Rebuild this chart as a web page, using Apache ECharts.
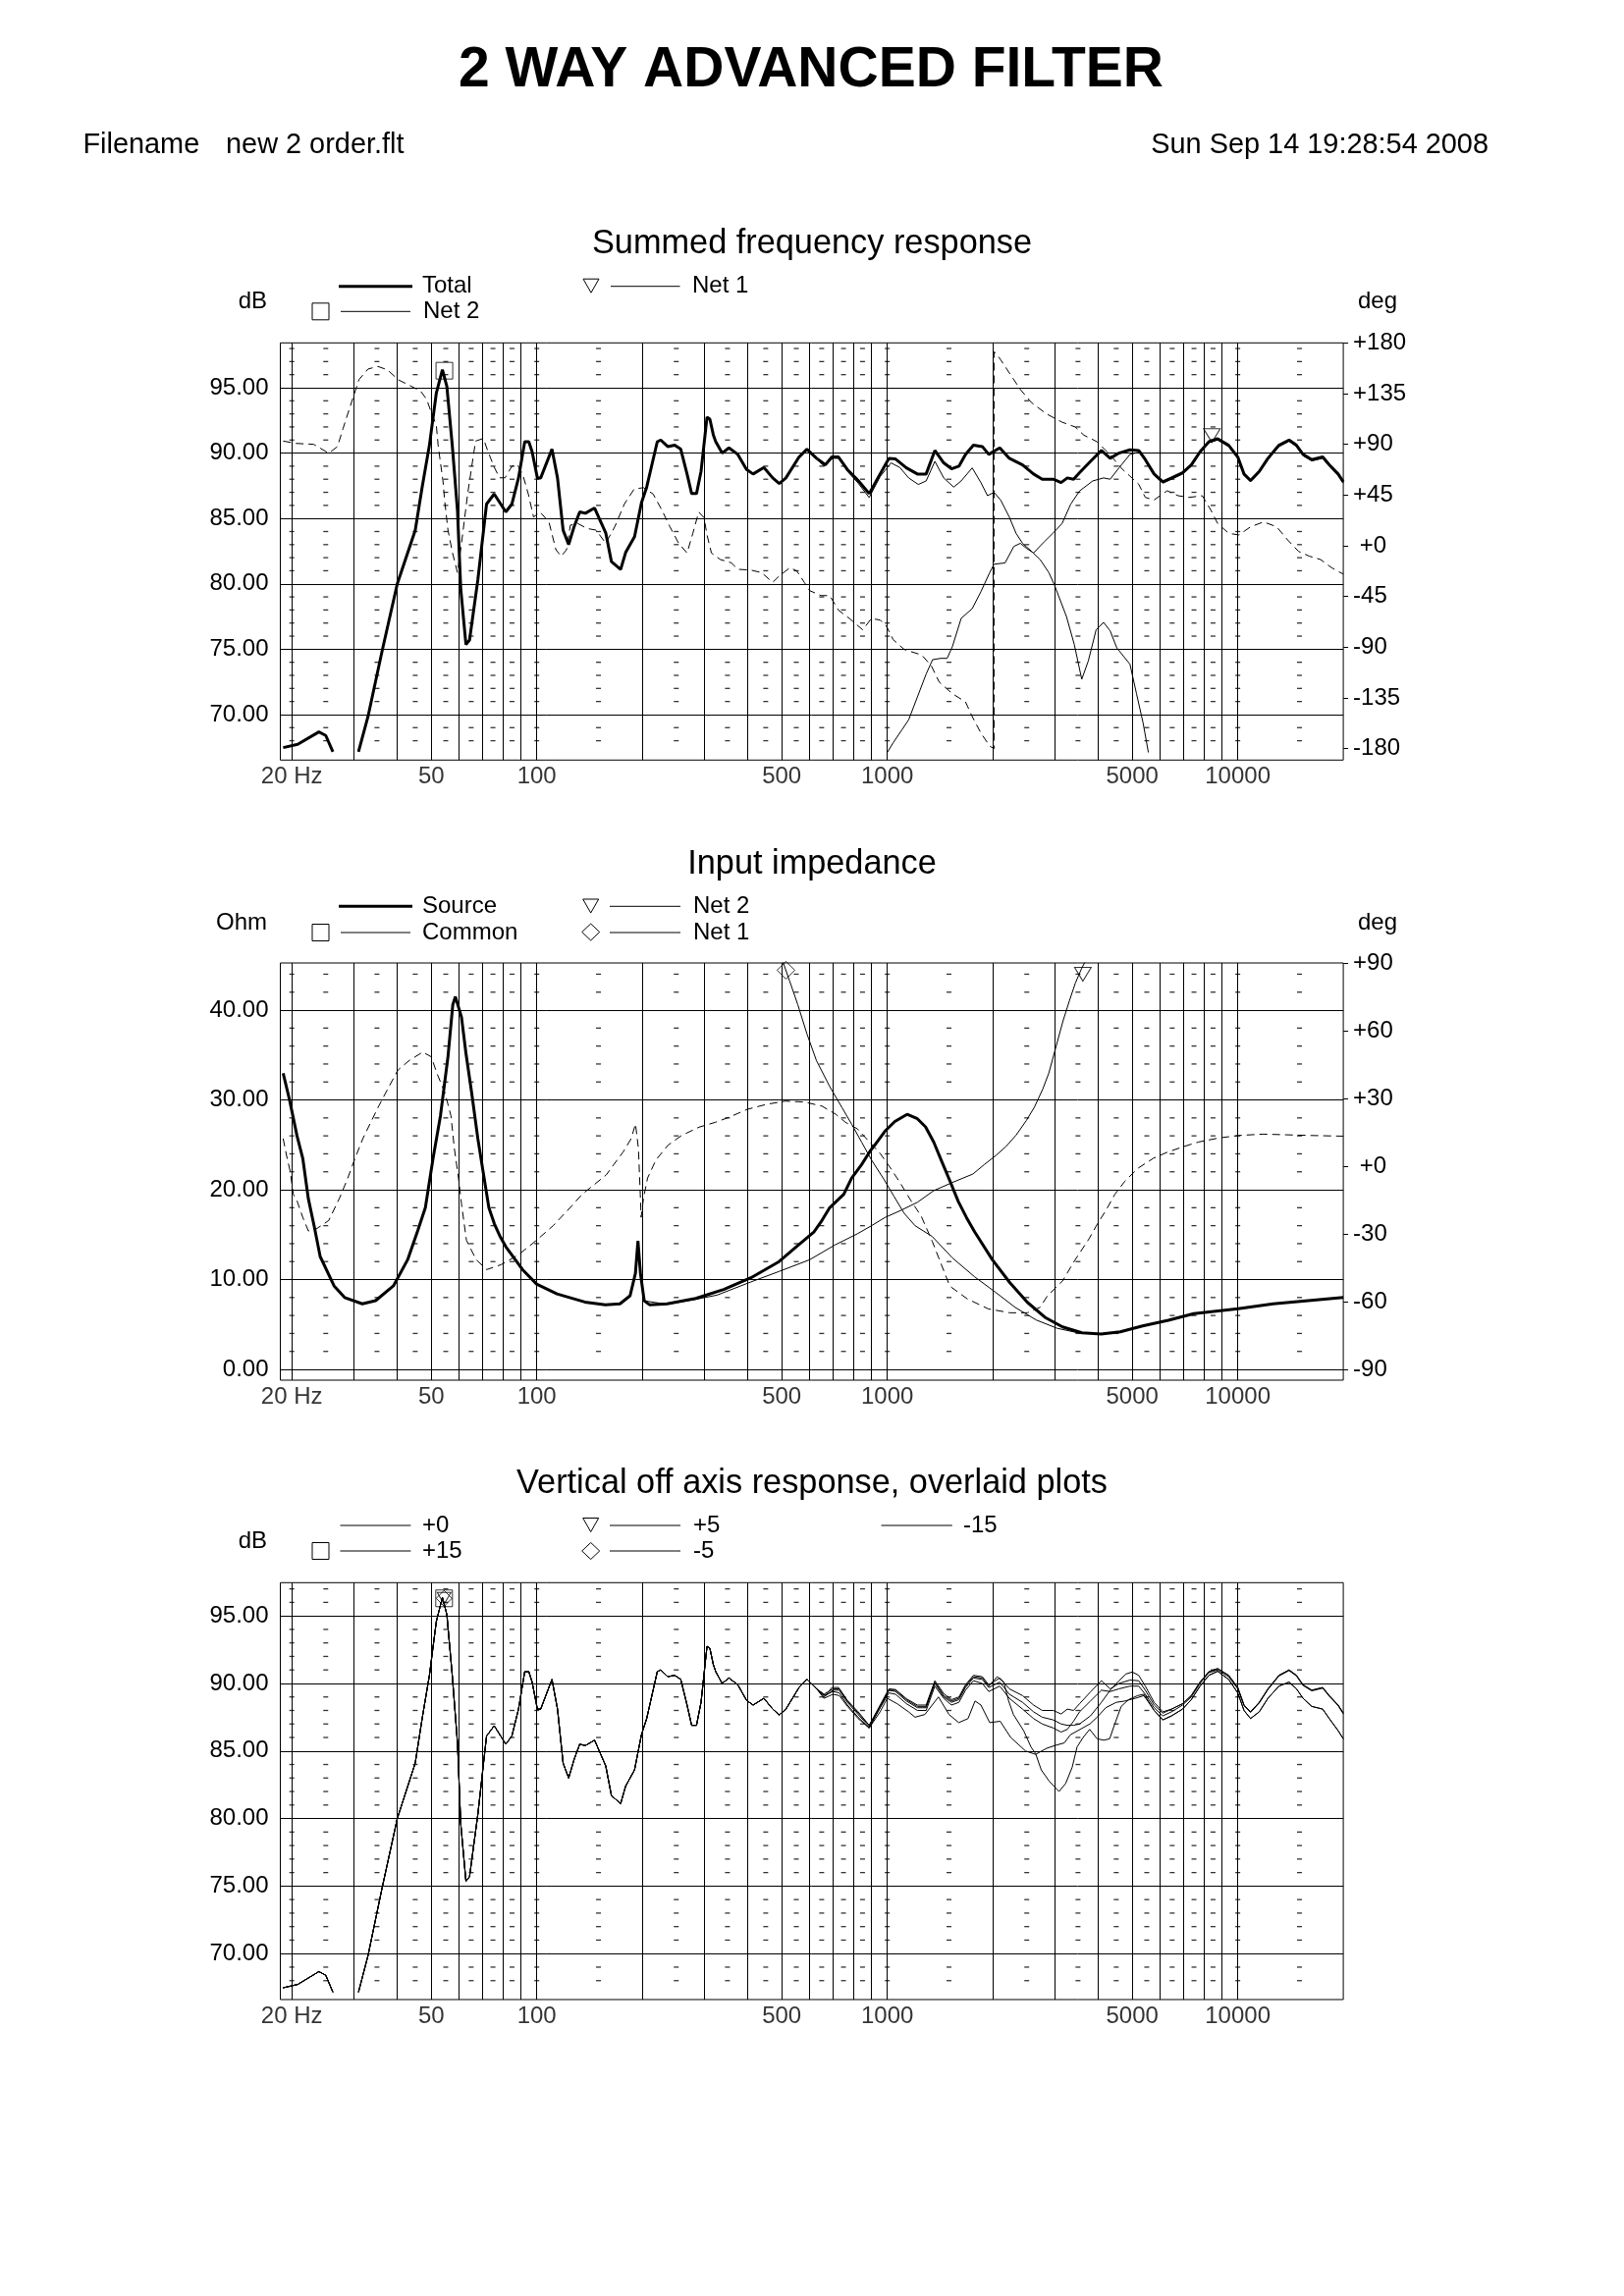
<!DOCTYPE html>
<html><head><meta charset="utf-8">
<script src="https://cdn.jsdelivr.net/npm/echarts@6/dist/echarts.min.js"></script>
<style>html,body{margin:0;padding:0;background:#fff}#c{width:1654px;height:2339px}</style>
</head><body><div id="c"></div>
<script>
// ---------- axis / grid definitions ----------
const F_MIN = 18.55, F_MAX = 20000;
const freqLabels = [20, 50, 100, 500, 1000, 5000, 10000];
const freqGrid = [20,30,40,50,60,70,80,90,100,200,300,400,500,600,700,800,900,1000,2000,3000,4000,5000,6000,7000,8000,9000,10000];
const dashFreqs = [20,25,35,45,55,65,75,85,100,150,250,350,450,550,650,750,850,1000,1500,2500,3500,4500,5500,6500,7500,8500,10000,15000];

const c1DbRange = [66.52, 98.43];
const c1PhRange = [-190.1, 180];
const c1DbTicks = [70,75,80,85,90,95];
const c1DbMinor = [68,69,71,72,73,74,76,77,78,79,81,82,83,84,86,87,88,89,91,92,93,94,96,97,98];
const c1PhTicks = [-180,-135,-90,-45,0,45,90,135,180];

const c2OhmRange = [-1.2, 45.25];
const c2PhRange = [-94.5, 90];
const c2OhmTicks = [0,10,20,30,40];
const c2OhmMinor = [2,4,6,8,12,14,16,18,22,24,26,28,32,34,36,38,42,44];
const c2PhTicks = [-90,-60,-30,0,30,60,90];

const c3DbRange = [66.6, 97.46];
const c3DbTicks = [70,75,80,85,90,95];
const c3DbMinor = [68,69,71,72,73,74,76,77,78,79,81,82,83,84,86,87,88,89,91,92,93,94,96,97];

// ---------- chart 1: Summed frequency response ----------
const total = [[18.9,67.47],[20.8,67.72],[23.9,68.67],[25.0,68.4],[26.2,67.15],[28.5,null],[31.0,67.15],[33.0,69.85],[36.2,74.86],[40.0,80.0],[45.0,84.1],[47.1,87.4],[49.4,90.6],[51.7,94.6],[53.8,96.37],[55.4,95.1],[57.4,90.6],[59.4,85.6],[60.7,79.6],[62.8,75.35],[64.3,75.7],[67.9,80.3],[71.9,86.1],[75.6,86.87],[81.6,85.5],[84.9,86.1],[88.7,88.1],[92.4,90.87],[94.9,90.87],[97.0,90.1],[100.4,88.1],[102.6,88.1],[110.5,90.3],[114.6,88.1],[118.9,84.1],[123.3,83.0],[127.9,84.4],[132.6,85.5],[137.6,85.4],[146.2,85.8],[157.3,83.9],[163.3,81.7],[173.5,81.1],[179.3,82.4],[190.1,83.6],[198.9,86.2],[205.9,87.4],[220.7,90.87],[225.8,91.0],[236.4,90.5],[247.5,90.6],[257.5,90.3],[268.4,88.4],[276.6,86.9],[285.6,86.9],[294.2,88.6],[306.0,92.75],[311.8,92.6],[318.9,91.4],[324.1,90.87],[338.0,90.0],[353.4,90.4],[374.6,89.9],[396.7,88.75],[414.2,88.4],[444.6,88.9],[471.1,88.1],[492.0,87.67],[513.8,88.1],[560.2,89.7],[589.9,90.3],[628.5,89.6],[665.8,89.1],[695.1,89.7],[725.8,89.7],[768.9,88.75],[826.1,87.9],[888.1,86.9],[954.0,88.4],[1010.8,89.6],[1055.6,89.55],[1133.9,88.87],[1218.8,88.4],[1290.8,88.4],[1367,90.2],[1449,89.25],[1525,88.8],[1601,89.0],[1672,89.9],[1761,90.6],[1867,90.5],[1948,89.9],[2094,90.4],[2230,89.6],[2432,89.1],[2614,88.4],[2768,88.0],[2976,88.0],[3133,87.74],[3264,88.1],[3400,88.0],[3537,88.5],[3800,89.37],[4083,90.2],[4325,89.6],[4582,90.0],[4925,90.25],[5216,90.2],[5447,89.5],[5772,88.4],[6113,87.8],[6474,88.1],[6958,88.5],[7369,89.1],[7804,90.1],[8272,90.87],[8761,91.1],[9418,90.6],[10000,89.7],[10418,88.4],[10874,87.9],[11516,88.6],[12195,89.6],[13106,90.6],[14007,91.0],[14703,90.6],[15353,89.9],[16260,89.5],[17472,89.7],[18241,89.1],[19336,88.4],[20000,87.8]];

const net2Spl = [[600,90.1],[660,89.0],[700,89.6],[730,89.6],[770,88.6],[826,87.7],[888,86.6],[954,88.2],[1025,89.25],[1086,88.9],[1151,88.1],[1226,87.6],[1291,87.87],[1367,89.37],[1449,88.1],[1547,87.4],[1625,87.87],[1747,88.87],[1850,87.74],[1932,86.74],[2017,87.0],[2107,86.4],[2230,85.1],[2330,83.87],[2432,83.1],[2577,82.5],[2729,81.86],[2891,80.86],[3000,79.9],[3245,77.5],[3417,75.35],[3588,72.7],[3746,74.1],[3945,76.5],[4143,77.05],[4325,76.4],[4517,75.1],[4925,73.85],[5141,71.6],[5370,69.35],[5559,67.1]];

const net1Spl = [[1000,67.1],[1040,67.85],[1102,68.85],[1151,69.6],[1219,71.35],[1291,73.1],[1347,74.2],[1420,74.3],[1482,74.3],[1534,75.2],[1625,77.36],[1747,78.1],[1850,79.4],[1960,80.86],[2017,81.5],[2168,81.6],[2296,82.86],[2397,83.1],[2500,82.7],[2614,82.36],[2800,83.2],[2976,83.9],[3151,84.6],[3338,86.1],[3537,87.1],[3857,87.87],[4143,88.1],[4325,88.0],[4582,88.87],[4925,89.9],[5290,90.1],[5447,89.4],[5772,88.3],[6113,87.7],[6474,88.0],[6958,88.4],[7369,89.0],[7804,90.0],[8272,90.8],[8761,91.0],[9418,90.5],[10000,89.6],[10418,88.3],[10874,87.8],[11516,88.5],[12195,89.5],[13106,90.5],[14007,90.9],[14703,90.5],[15353,89.8],[16260,89.4],[17472,89.6],[18241,89.0],[19336,88.3],[20000,87.7]];

const phase1 = [[18.9,92.9],[20.6,90.8],[23.1,90.0],[25.5,82.1],[27.0,88.0],[28.0,103.9],[29.4,124.3],[31.1,147.4],[33.0,156.8],[35.2,159.1],[37.5,156.1],[40.2,147.4],[43.4,142.2],[46.6,137.3],[48.5,130.0],[50.0,118.4],[51.7,106.8],[52.3,89.4],[52.9,77.8],[54.0,57.5],[54.6,40.1],[55.8,14.0],[57.5,-6.4],[59.4,-23.8],[61.0,2.3],[63.5,45.9],[66.9,92.9],[70.4,95.2],[72.3,85.1],[75.4,70.5],[78.3,60.3],[81.2,60.3],[84.9,70.5],[88.0,72.0],[91.2,63.3],[94.6,45.9],[97.9,25.5],[102.2,29.9],[108.3,21.2],[113.4,-3.5],[117.4,-9.3],[121.6,-3.5],[124.7,18.3],[130.9,19.8],[138.9,15.4],[147.6,13.9],[157.3,2.3],[166.9,16.8],[177.9,37.2],[189.5,50.2],[201.5,51.6],[214.8,45.9],[227.8,31.3],[239.9,16.8],[253.9,2.3],[268.4,-6.4],[278.8,11.1],[289.7,29.9],[300,25],[306,9.6],[315,-6.4],[334,-12.2],[359,-15.1],[375,-20.9],[407,-21.5],[438,-23.8],[471,-32.5],[492,-26.7],[528,-19.4],[552,-22.4],[580,-32.5],[601,-39.8],[647,-44.2],[685,-44.2],[726,-57.2],[780,-64.5],[851,-74.6],[901,-64.5],[954,-65.9],[996,-71.7],[1040,-83.3],[1118,-92.0],[1254,-96.9],[1336,-106.5],[1407,-121.0],[1534,-131.2],[1672,-138.5],[1747,-151.5],[1850,-166.1],[1960,-177.7],[2017,-180],[2017,172],[2046,170.7],[2107,164.9],[2230,153.3],[2397,138.7],[2577,127.1],[2846,117.0],[3151,109.7],[3437,105.4],[3639,98.1],[3968,92.3],[4325,80.7],[4649,69.0],[4925,61.8],[5216,54.6],[5447,42.9],[5772,40.7],[6289,48.8],[6761,44.4],[7259,42.9],[7920,44.4],[8392,31.3],[8761,19.8],[9418,11.1],[10073,9.6],[10874,16.8],[11850,21.2],[12914,16.8],[13874,5.2],[14915,-5.0],[16019,-9.3],[17227,-12.2],[18520,-19.4],[19617,-23.8],[20000,-25]];

const c1Net2Marker = [54.5, 96.3];
const c1Net1Marker = [8437, 91.34];

// ---------- chart 2: Input impedance ----------
const srcOhm = [[18.9,32.97],[19.7,30.05],[20.7,26.0],[21.5,23.5],[22.3,19.0],[23.2,15.85],[24.1,12.57],[26.4,9.3],[28.3,8.0],[31.8,7.3],[34.7,7.65],[39.0,9.3],[42.8,12.2],[45.8,15.5],[48.1,18.0],[50.6,23.5],[53.1,28.2],[55.8,34.8],[57.6,40.6],[58.6,41.5],[61.0,39.2],[62.8,35.2],[65.2,30.8],[67.9,25.7],[70.3,22.0],[73.0,18.0],[75.7,16.2],[78.7,14.75],[81.6,13.66],[91.1,11.1],[99.9,9.5],[114.2,8.4],[137.1,7.5],[157.0,7.2],[172.7,7.3],[184.6,8.2],[191.2,10.7],[194.4,14.3],[197.6,10.7],[202.5,7.65],[209.7,7.2],[235.4,7.3],[284.2,7.9],[341.5,8.9],[408.3,10.2],[491.3,12.0],[557.6,13.85],[617.4,15.3],[646.7,16.4],[685,18.0],[751.5,19.5],[791.5,21.3],[845,22.8],[893.1,24.3],[922,25.0],[984,26.5],[1051,27.6],[1139,28.4],[1219,27.9],[1286,27.0],[1357,25.3],[1432,23.1],[1512,20.9],[1594,18.7],[1683,16.9],[1776,15.3],[1995,12.2],[2238,9.65],[2511,7.46],[2817,5.8],[3162,4.73],[3590,4.08],[4076,3.93],[4622,4.19],[5353,4.84],[6337,5.46],[7490,6.2],[10016,6.74],[12616,7.29],[15890,7.65],[20000,8.0]];

const srcPhase = [[18.9,12.3],[19.4,3.6],[19.8,-2.2],[20.2,-12.3],[20.7,-15.2],[21.5,-22.5],[22.3,-28.5],[23.2,-28.2],[25.5,-23.9],[27.4,-13.8],[28.9,-5.1],[30.3,3.6],[31.9,12.3],[33.6,19.5],[35.4,26.7],[37.9,35.4],[40.2,42.7],[43.4,47.0],[47.3,50.6],[50.0,48.5],[51.9,41.2],[54.7,32.6],[56.9,22.4],[58.2,7.9],[59.8,-5.1],[61.0,-16.7],[63.0,-32.6],[67.2,-41.3],[72.0,-45.6],[79.2,-43.4],[88.6,-39.1],[99.9,-32.6],[111.5,-26.1],[124.7,-18.1],[134.7,-12.3],[145.9,-8.0],[157.9,-3.7],[165.6,0.7],[176.5,6.5],[185.9,12.3],[191.3,18.8],[195.0,7.9],[197.4,-12.3],[198.5,-22.5],[201.7,-13.8],[207.1,-5.1],[218.8,2.9],[236.8,9.4],[258.9,13.7],[290.6,17.4],[322.7,19.5],[352.9,21.7],[399.0,25.3],[453.1,27.5],[511.2,28.9],[580.3,28.5],[651.1,26.7],[712.9,23.1],[760.4,19.5],[822.4,16.6],[890.0,10.8],[954.0,5.8],[1022,-0.75],[1089,-7.3],[1167,-15],[1250,-22],[1343,-33],[1508,-52.9],[1693,-58.6],[1944,-63.0],[2238,-64.7],[2511,-64.7],[2729,-62.3],[2864,-57.2],[3162,-50.7],[3412,-42.0],[3767,-31.9],[3977,-25.4],[4199,-19.6],[4460,-12.3],[4764,-6.5],[5195,-0.75],[5741,3.6],[6269,6.2],[6976,8.7],[7721,10.8],[8832,12.6],[10052,13.7],[11786,14.3],[13824,14.0],[16166,13.7],[20000,13.4]];

const net1Ohm = [[500.5,45.7],[527,43.2],[555.6,40.6],[590,37.35],[627.7,34.4],[685,31.5],[744,29.1],[791.5,27.3],[845,25.3],[902,23.3],[977,21.2],[1044,19.3],[1116,17.4],[1200,16.0],[1343,14.8],[1535,12.4],[1776,10.3],[2034,8.6],[2317,6.9],[2660,5.5],[3048,4.58],[3495,4.08],[4076,3.92]];

const net2Ohm = [[205,7.6],[235,7.25],[284,7.8],[327,8.27],[408,9.73],[491,10.9],[600,12.2],[709,13.85],[822,15.1],[902,16.0],[984,16.9],[1093,17.7],[1219,18.6],[1357,19.9],[1532,20.8],[1755,21.75],[1891,22.8],[2039,23.8],[2180,24.8],[2333,26.1],[2493,27.7],[2629,29.2],[2777,31.2],[2891,33.0],[3009,35.5],[3173,38.8],[3306,41.0],[3440,43.0],[3581,44.6],[3726,45.9]];

const c2Net1Marker = [514, 44.45];
const c2Net2Marker = [3615, 44.0];

// ---------- chart 3: Vertical off axis response ----------
// +0 equals the summed response (total); the other angles coincide with it below ~650 Hz
const offP5Hf = [[660,89.2],[700,89.6],[730,89.6],[770,88.7],[826,87.8],[888,86.9],[954,88.3],[1011,89.5],[1056,89.4],[1134,88.7],[1219,88.2],[1291,88.2],[1367,90.0],[1449,89.0],[1525,88.6],[1601,88.8],[1672,89.7],[1761,90.4],[1867,90.3],[1948,89.7],[2094,90.1],[2230,89.2],[2432,88.6],[2614,87.9],[2768,87.5],[2976,87.3],[3133,87.0],[3264,86.9],[3400,86.9],[3537,87.0],[3800,87.6],[4083,88.6],[4325,89.5],[4582,90.2],[4800,90.7],[5000,90.85],[5216,90.6],[5447,89.8],[5772,88.6],[6113,87.9],[6474,88.1],[6958,88.5],[7369,89.1],[7804,90.1],[8272,90.87],[8761,91.1],[9418,90.6],[10000,89.7],[10418,88.4],[10874,87.9],[11516,88.6],[12195,89.6],[13106,90.6],[14007,91.0],[14703,90.6],[15353,89.9],[16260,89.5],[17472,89.7],[18241,89.1],[19336,88.4],[20000,87.8]];
const offM5Hf = [[660,89.0],[700,89.5],[730,89.5],[770,88.6],[826,87.7],[888,86.8],[954,88.2],[1011,89.3],[1056,89.2],[1134,88.5],[1219,88.0],[1291,88.0],[1367,89.8],[1449,88.9],[1525,88.4],[1601,88.6],[1672,89.5],[1761,90.2],[1867,90.0],[1948,89.4],[2094,89.8],[2230,88.9],[2432,88.1],[2614,87.4],[2768,87.0],[2976,86.7],[3133,86.4],[3264,86.6],[3400,87.2],[3537,87.9],[3800,88.7],[4083,89.5],[4325,89.4],[4582,89.6],[4925,89.8],[5216,89.8],[5447,89.2],[5772,88.2],[6113,87.6],[6474,87.9],[6958,88.4],[7369,89.0],[7804,90.0],[8272,90.8],[8761,91.0],[9418,90.5],[10000,89.6],[10418,88.35],[10874,87.85],[11516,88.55],[12195,89.55],[13106,90.55],[14007,90.95],[14703,90.55],[15353,89.85],[16260,89.45],[17472,89.65],[18241,89.05],[19336,88.35],[20000,87.75]];
const offP15Mid = [[660,88.9],[700,89.2],[730,89.1],[770,88.3],[826,87.4],[888,86.7],[954,87.9],[1000,88.9],[1067,88.5],[1150,87.9],[1200,87.5],[1280,87.7],[1400,89.0],[1500,87.7],[1600,87.1],[1700,87.4],[1780,88.7],[1850,88.4],[1960,87.1],[2100,87.2],[2250,86.0],[2480,85.0],[2650,84.75],[2850,85.2],[3006,85.4],[3200,85.6],[3330,86.2],[3550,86.6],[3784,87.0],[3970,87.5],[4200,88.2],[4500,88.6],[4765,88.7],[5100,88.9],[5400,89.1]];
const offM15Mid = [[660,89.1],[700,89.4],[730,89.3],[770,88.4],[826,87.5],[888,86.7],[954,88.2],[1011,89.5],[1056,89.5],[1134,88.8],[1219,88.3],[1291,88.3],[1367,90.1],[1449,89.1],[1525,88.7],[1601,88.9],[1672,89.8],[1761,90.5],[1867,90.4],[1948,89.8],[2060,90.5],[2150,90.1],[2220,88.7],[2290,87.7],[2450,86.5],[2570,85.3],[2650,84.8],[2750,83.6],[2900,82.75],[3090,82.0],[3230,82.6],[3370,83.8],[3480,85.3],[3620,86.0],[3780,86.6],[3970,85.9],[4150,85.8],[4310,85.9],[4450,86.95],[4650,88.3],[4880,88.8],[5180,89.1],[5400,89.2]];
const off15Hf = [[5772,88.0],[6113,87.3],[6474,87.6],[6958,88.1],[7369,88.8],[7804,89.8],[8272,90.6],[8761,90.9],[9418,90.3],[10000,89.3],[10418,88.0],[10874,87.4],[11516,87.9],[12195,88.9],[13106,89.8],[14007,90.1],[14703,89.6],[15353,88.9],[16260,88.3],[17472,88.1],[18241,87.4],[19336,86.5],[20000,85.9]];
const c3Marker = [54.4, 96.3];

// ---------- build ----------
const FONT = "'Liberation Sans', Arial, Helvetica, sans-serif";
const chart = echarts.init(document.getElementById('c'), null, {renderer: 'canvas'});

const plotLeft = 285.5, plotWidth = 1082.6;
const grids = [
  {left: plotLeft, top: 349.3, width: plotWidth, height: 425},
  {left: plotLeft, top: 981, width: plotWidth, height: 425},
  {left: plotLeft, top: 1612.3, width: plotWidth, height: 424.7}
].map(g => Object.assign({show: true, borderColor: '#000', borderWidth: 1, backgroundColor: 'transparent', containLabel: false}, g));

const xAxes = [0,1,2].map(i => ({
  type: 'log', logBase: 10, gridIndex: i, min: F_MIN, max: F_MAX,
  axisLine: {show: false}, axisTick: {show: false}, axisLabel: {show: false}, splitLine: {show: false}
}));

function leftAxis(grid, range, ticks) {
  return {type: 'value', gridIndex: grid, position: 'left', min: range[0], max: range[1],
    axisLine: {show: false}, axisTick: {show: false}, splitLine: {show: false},
    axisLabel: {customValues: ticks, margin: 12, color: '#000', fontSize: 24, fontFamily: FONT,
      formatter: v => Number(v).toFixed(2)}};
}
function rightAxis(grid, range, ticks) {
  return {type: 'value', gridIndex: grid, position: 'right', min: range[0], max: range[1],
    axisLine: {show: false}, splitLine: {show: false},
    axisTick: {show: true, customValues: ticks, length: 5, inside: false, lineStyle: {color: '#000', width: 1}},
    axisLabel: {customValues: ticks, margin: 10, color: '#000', fontSize: 24, fontFamily: FONT,
      formatter: v => v > 0 ? '+' + v : (v === 0 ? ' +0' : String(v))}};
}
const yAxes = [
  leftAxis(0, c1DbRange, c1DbTicks), rightAxis(0, c1PhRange, c1PhTicks),
  leftAxis(1, c2OhmRange, c2OhmTicks), rightAxis(1, c2PhRange, c2PhTicks),
  leftAxis(2, c3DbRange, c3DbTicks)
];

function frameSeries(g, yIdx, ticks, minor, yMin) {
  return [
    {type: 'line', xAxisIndex: g, yAxisIndex: yIdx, data: [], silent: true, z: 1, animation: false,
      markLine: {silent: true, symbol: ['none','none'], label: {show: false}, animation: false,
        emphasis: {disabled: true},
        lineStyle: {color: '#000', width: 1, type: 'solid'},
        data: freqGrid.map(f => ({xAxis: f})).concat(ticks.map(v => ({yAxis: v})))}},
    {type: 'scatter', xAxisIndex: g, yAxisIndex: yIdx, symbol: 'rect', symbolSize: [5, 1.3], silent: true, z: 1,
      animation: false, itemStyle: {color: '#000'},
      data: dashFreqs.flatMap(f => minor.map(v => [f, v]))},
    {type: 'scatter', xAxisIndex: g, yAxisIndex: yIdx, symbolSize: 0, silent: true, clip: false, z: 2, animation: false,
      data: freqLabels.map(f => [f, yMin]),
      label: {show: true, position: 'bottom', distance: 5, color: '#000', fontSize: 24, fontFamily: FONT,
        formatter: p => p.value[0] === 20 ? '20 Hz' : String(p.value[0])}}
  ];
}
function curve(name, g, yIdx, data, width, dashed) {
  return {type: 'line', name: name, xAxisIndex: g, yAxisIndex: yIdx, data: data, showSymbol: false, symbol: 'none',
    silent: true, z: width > 1 ? 4 : 3, animation: false, connectNulls: false,
    lineStyle: {color: '#000', width: width, type: dashed ? [8, 5] : 'solid'}};
}
function marker(g, yIdx, pt, symbol, size, rotate) {
  return {type: 'scatter', xAxisIndex: g, yAxisIndex: yIdx, data: [pt], symbol: symbol, symbolSize: size,
    symbolRotate: rotate || 0, silent: true, z: 5, animation: false,
    itemStyle: {color: 'rgba(0,0,0,0)', borderColor: '#000', borderWidth: 1}};
}

const low = total.filter(p => p[0] < 650);
const offP5 = low.concat(offP5Hf);
const offM5 = low.concat(offM5Hf);
const offP15 = low.concat(offP15Mid, off15Hf);
const offM15 = low.concat(offM15Mid, off15Hf);

const series = [].concat(
  frameSeries(0, 0, c1DbTicks, c1DbMinor, c1DbRange[0]),
  frameSeries(1, 2, c2OhmTicks, c2OhmMinor, c2OhmRange[0]),
  frameSeries(2, 4, c3DbTicks, c3DbMinor, c3DbRange[0]),
  [
    curve('Phase', 0, 1, phase1, 1, true),
    curve('Net 2', 0, 0, net2Spl, 1, false),
    curve('Net 1', 0, 0, net1Spl, 1, false),
    curve('Total', 0, 0, total, 3, false),
    marker(0, 0, c1Net2Marker, 'rect', 17),
    marker(0, 0, c1Net1Marker, 'triangle', [17, 14], 180),

    curve('Phase', 1, 3, srcPhase, 1, true),
    curve('Net 2', 1, 2, net2Ohm, 1, false),
    curve('Net 1', 1, 2, net1Ohm, 1, false),
    curve('Source', 1, 2, srcOhm, 3, false),
    marker(1, 2, c2Net1Marker, 'diamond', [18, 18]),
    marker(1, 2, c2Net2Marker, 'triangle', [17, 14], 180),

    curve('-15', 2, 4, offM15, 1, false),
    curve('+15', 2, 4, offP15, 1, false),
    curve('-5', 2, 4, offM5, 1, false),
    curve('+5', 2, 4, offP5, 1, false),
    curve('+0', 2, 4, total, 1, false),
    marker(2, 4, c3Marker, 'rect', 17),
    marker(2, 4, c3Marker, 'diamond', [16, 16]),
    marker(2, 4, c3Marker, 'triangle', [14, 12], 180)
  ]
);

// ---------- page texts & legends ----------
function txt(x, y, s, size, align, weight) {
  return {type: 'text', x: x, y: y, silent: true,
    style: {text: s, fill: '#000', font: (weight || 'normal') + ' ' + size + 'px ' + FONT,
      align: align || 'left', textAlign: align || 'left', verticalAlign: 'middle', textVerticalAlign: 'middle'}};
}
function hline(x1, x2, y, w) {
  return {type: 'line', silent: true, shape: {x1: x1, y1: y, x2: x2, y2: y}, style: {stroke: '#000', lineWidth: w || 1}};
}
function sq(cx, cy) {
  return {type: 'rect', silent: true, shape: {x: cx - 8.5, y: cy - 8.5, width: 17, height: 17}, style: {fill: 'none', stroke: '#000', lineWidth: 1}};
}
function tri(cx, cy) {
  return {type: 'polygon', silent: true, shape: {points: [[cx - 8, cy - 7], [cx + 8, cy - 7], [cx, cy + 7]]}, style: {fill: 'none', stroke: '#000', lineWidth: 1}};
}
function dia(cx, cy) {
  return {type: 'polygon', silent: true, shape: {points: [[cx, cy - 8.5], [cx + 9, cy], [cx, cy + 8.5], [cx - 9, cy]]}, style: {fill: 'none', stroke: '#000', lineWidth: 1}};
}

const graphics = [
  txt(826, 72.7, '2 WAY ADVANCED FILTER', 57, 'center', 'bold'),
  txt(84.4, 148.5, 'Filename', 28.9),
  txt(230, 148.5, 'new 2 order.flt', 28.9),
  txt(1516, 148.5, 'Sun Sep 14 19:28:54 2008', 28.9, 'right'),

  txt(827, 249, 'Summed frequency response', 34.3, 'center'),
  txt(272, 307, 'dB', 24, 'right'),
  txt(1383, 307, 'deg', 24),
  hline(345, 420, 291.7, 3), txt(430, 291.7, 'Total', 24),
  sq(326.5, 317.3), hline(347, 418, 317.3), txt(431, 317.3, 'Net 2', 24),
  tri(602, 291.2), hline(622, 692.5, 291.7), txt(705, 291.7, 'Net 1', 24),

  txt(827, 880.8, 'Input impedance', 34.3, 'center'),
  txt(272, 940, 'Ohm', 24, 'right'),
  txt(1383, 940, 'deg', 24),
  hline(345, 420, 923.3, 3), txt(430, 923.3, 'Source', 24),
  sq(326.5, 950), hline(347, 418, 950), txt(430, 950, 'Common', 24),
  tri(601.7, 923), hline(621, 693, 923.3), txt(706, 923.3, 'Net 2', 24),
  dia(601.7, 949.5), hline(621, 693, 950), txt(706, 950, 'Net 1', 24),

  txt(827, 1511.5, 'Vertical off axis response, overlaid plots', 34.3, 'center'),
  txt(272, 1570.7, 'dB', 24, 'right'),
  hline(346.5, 418.4, 1554), txt(430, 1554, '+0', 24),
  sq(326.5, 1580), hline(346.5, 418.4, 1580), txt(430, 1580, '+15', 24),
  tri(601.7, 1553.5), hline(621, 693, 1554), txt(706, 1554, '+5', 24),
  dia(601.7, 1580), hline(621, 693, 1580), txt(706, 1580, '-5', 24),
  hline(897.6, 969.8, 1554), txt(981, 1554, '-15', 24)
];

chart.setOption({
  animation: false,
  backgroundColor: '#fff',
  grid: grids,
  xAxis: xAxes,
  yAxis: yAxes,
  series: series,
  graphic: graphics
});
</script>
</body></html>
